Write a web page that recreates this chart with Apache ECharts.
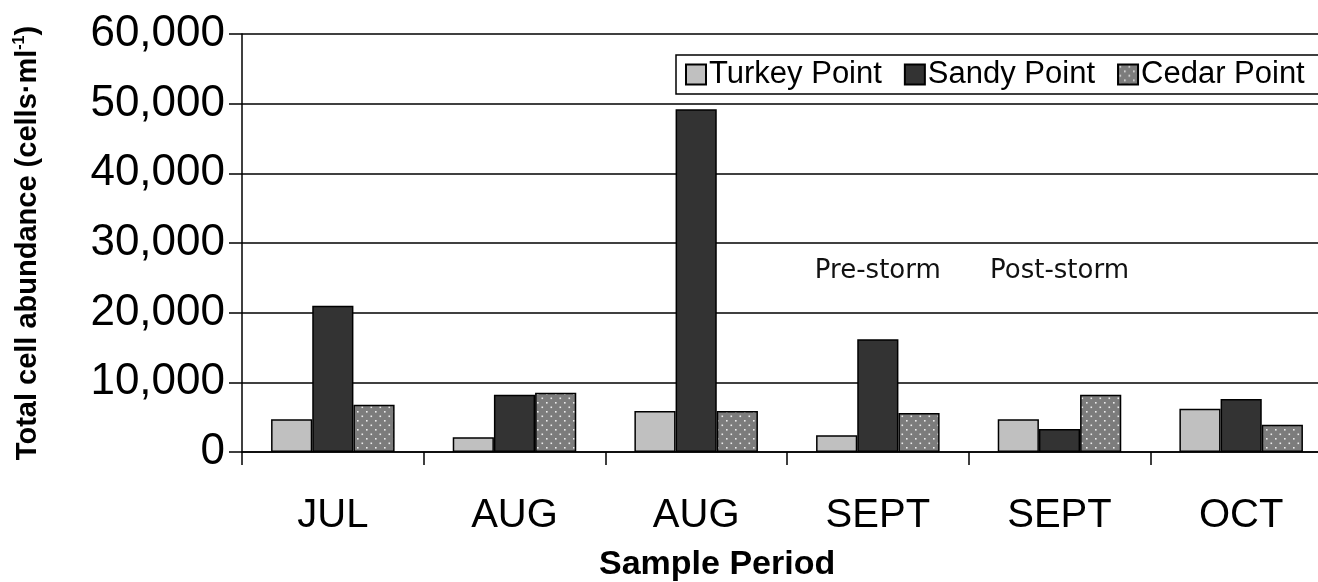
<!DOCTYPE html>
<html>
<head>
<meta charset="utf-8">
<script src="https://cdn.jsdelivr.net/npm/echarts@6/dist/echarts.min.js"></script>
<style>
  html, body { margin: 0; padding: 0; background: #fff; }
  #chart { width: 1318px; height: 582px; }
</style>
</head>
<body>
<div id="chart"></div>
<script>
// Sample periods and total cell abundance (cells per ml) at each site
const categories = ['JUL', 'AUG', 'AUG', 'SEPT', 'SEPT', 'OCT'];
const turkeyPoint = [4700, 2100, 5900, 2400, 4700, 6200];
const sandyPoint = [21000, 8200, 49200, 16200, 3300, 7600];
const cedarPoint = [6800, 8500, 5900, 5600, 8200, 3900];
const seriesNames = ['Turkey Point', 'Sandy Point', 'Cedar Point'];

// Storm annotations: [category index, value height]
const stormNotes = [
  { text: 'Pre-storm', at: [3, 26000] },
  { text: 'Post-storm', at: [4, 26000] }
];

// Dotted fill for the Cedar Point bars
function dotPattern() {
  const c = document.createElement('canvas');
  c.width = 9; c.height = 9;
  const g = c.getContext('2d');
  g.fillStyle = '#7c7c7c';
  g.fillRect(0, 0, 9, 9);
  g.fillStyle = '#ececec';
  g.fillRect(1.5, 1.5, 1.6, 1.6);
  g.fillRect(6, 6, 1.6, 1.6);
  return c;
}

const FONT = '"Liberation Sans", Arial, sans-serif';
const chart = echarts.init(document.getElementById('chart'));

const barStyle = (fill) => ({ color: fill, borderColor: '#000', borderWidth: 1.5 });

chart.setOption({
  backgroundColor: '#fff',
  animation: false,
  textStyle: { fontFamily: FONT, color: '#000' },
  title: {
    text: 'Sample Period',
    left: 599,
    top: 548,
    padding: 0,
    textStyle: { fontFamily: FONT, fontSize: 34, fontWeight: 'bold', color: '#000' }
  },
  legend: {
    data: seriesNames,
    icon: 'rect',
    left: 676,
    top: 55,
    width: 700,
    padding: [4, 24, 4, 9],
    itemWidth: 20,
    itemHeight: 20,
    itemGap: 22,
    borderColor: '#000',
    borderWidth: 1.5,
    textStyle: { fontFamily: FONT, fontSize: 31, color: '#000', padding: [0, 0, 0, -2] }
  },
  grid: { left: 242, right: -14, top: 34, bottom: 130, containLabel: false, outerBoundsMode: 'none' },
  xAxis: {
    type: 'category',
    data: categories,
    boundaryGap: true,
    axisLine: { show: true, lineStyle: { color: '#000', width: 1.5 } },
    axisTick: { show: true, interval: 0, length: 13, lineStyle: { color: '#000', width: 1.5 } },
    axisLabel: { interval: 0, margin: 44, fontFamily: FONT, fontSize: 40, color: '#000' },
    splitLine: { show: false }
  },
  yAxis: {
    type: 'value',
    min: 0,
    max: 60000,
    interval: 10000,
    name: '{a|Total cell abundance (cells·ml}{s|-1}{a|)}',
    nameLocation: 'middle',
    nameGap: 198,
    nameRotate: 90,
    nameTextStyle: {
      rich: {
        a: { fontFamily: FONT, fontSize: 29, fontWeight: 'bold', color: '#000', lineHeight: 32 },
        s: { fontFamily: FONT, fontSize: 16, fontWeight: 'bold', color: '#000', lineHeight: 16, verticalAlign: 'top' }
      }
    },
    axisLine: { show: true, lineStyle: { color: '#000', width: 1.5 } },
    axisTick: { show: true, length: 13, lineStyle: { color: '#000', width: 1.5 } },
    axisLabel: {
      margin: 17,
      fontFamily: FONT,
      fontSize: 44,
      color: '#000',
      formatter: (v) => v.toLocaleString('en-US')
    },
    splitLine: { show: true, lineStyle: { color: '#000', width: 1.5 } }
  },
  series: [
    { name: seriesNames[0], type: 'bar', data: turkeyPoint, barGap: '0%', barCategoryGap: '32%', itemStyle: barStyle('#c0c0c0') },
    { name: seriesNames[1], type: 'bar', data: sandyPoint, barGap: '0%', barCategoryGap: '32%', itemStyle: barStyle('#333333') },
    { name: seriesNames[2], type: 'bar', data: cedarPoint, barGap: '0%', barCategoryGap: '32%', itemStyle: barStyle({ image: dotPattern(), repeat: 'repeat' }) }
  ]
});

// Place the storm notes through the chart's own coordinate system
chart.setOption({
  graphic: stormNotes.map((n) => {
    const p = chart.convertToPixel({ gridIndex: 0 }, n.at);
    return {
      type: 'text',
      x: p[0],
      y: p[1],
      style: {
        text: n.text,
        fontFamily: '"DejaVu Sans", sans-serif',
        fontSize: 26,
        fill: '#111',
        align: 'center',
        verticalAlign: 'middle'
      }
    };
  })
});
</script>
</body>
</html>
